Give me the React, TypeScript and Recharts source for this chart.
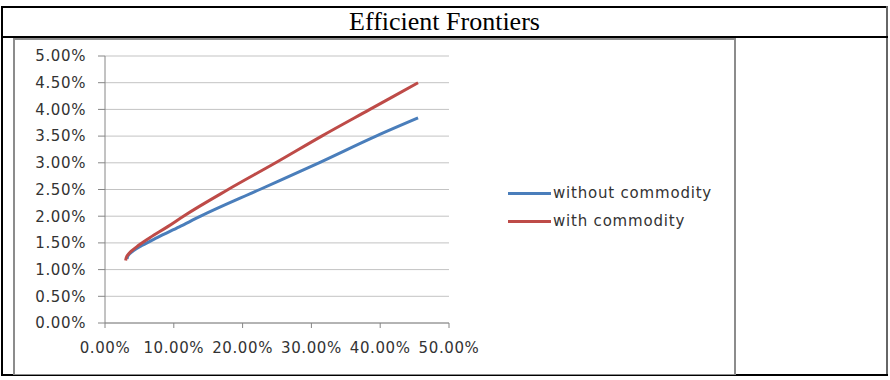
import { CartesianGrid, Line, LineChart, XAxis, YAxis } from "recharts";

// Portfolio risk (std dev, %) and expected return (%) along each frontier
const withoutRisk = [3.2, 3.31, 3.63, 4.22, 5.36, 7.58, 10.8, 13.9, 22.5, 31.1, 39.4, 45.5];
const withoutReturn = [1.2, 1.25, 1.3, 1.36, 1.45, 1.6, 1.8, 2.0, 2.5, 3.0, 3.5, 3.84];

const withRisk = [3.0, 3.08, 3.35, 3.87, 4.84, 6.56, 9.06, 11.4, 17.9, 24.8, 31.5, 38.5, 45.5];
const withReturn = [1.17, 1.22, 1.28, 1.35, 1.45, 1.6, 1.8, 2.0, 2.5, 3.0, 3.5, 4.0, 4.5];

const xTicks = [0, 10, 20, 30, 40, 50];
const yTicks = [0, 0.5, 1, 1.5, 2, 2.5, 3, 3.5, 4, 4.5, 5];

const BLUE = "#4a7ebb";
const RED = "#be4b48";
const FONT = "'DejaVu Sans', Verdana, sans-serif";

const zip = (xs: number[], ys: number[]) => xs.map((risk, i) => ({ risk, ret: ys[i] }));

const withoutData = zip(withoutRisk, withoutReturn);
const withData = zip(withRisk, withReturn);

const pct = (v: number) => `${v.toFixed(2)}%`;

const tickStyle = { fill: "#333", fontSize: 15, fontFamily: FONT, letterSpacing: 0.6 };

const legendItems = [
  { label: "without commodity", color: BLUE },
  { label: "with commodity", color: RED },
];

function Rule({ style }: { style: React.CSSProperties }) {
  return <div style={{ position: "absolute", ...style }} />;
}

export default function App() {
  return (
    <div
      style={{
        position: "absolute",
        left: 0,
        top: 0,
        width: 890,
        height: 380,
        background: "#fff",
        overflow: "hidden",
      }}
    >
      {/* table borders */}
      <Rule style={{ left: 1, top: 6, width: 887, height: 2, background: "#000" }} />
      <Rule style={{ left: 1, top: 6, width: 2, height: 370, background: "#000" }} />
      <Rule style={{ left: 886, top: 6, width: 2, height: 370, background: "#666" }} />
      <Rule style={{ left: 1, top: 36, width: 887, height: 2, background: "#000" }} />
      <Rule style={{ left: 1, top: 374, width: 887, height: 2, background: "#000" }} />

      <div
        style={{
          position: "absolute",
          left: 3,
          top: 7,
          width: 883,
          height: 29,
          lineHeight: "30px",
          textAlign: "center",
          fontFamily: "'Liberation Serif', 'Times New Roman', serif",
          fontSize: 26,
          color: "#000",
        }}
      >
        Efficient Frontiers
      </div>

      {/* chart frame */}
      <div
        style={{
          position: "absolute",
          left: 13,
          top: 38,
          width: 719,
          height: 334,
          border: "2px solid #8c8c8c",
          borderBottomWidth: 1,
        }}
      />

      <div style={{ position: "absolute", left: 14, top: 39 }}>
        <LineChart width={720} height={334} margin={{ top: 17, right: 285, bottom: 20, left: 0 }}>
          <CartesianGrid vertical={false} stroke="#c3c3c3" strokeWidth={1} />
          <XAxis
            type="number"
            dataKey="risk"
            domain={[0, 50]}
            ticks={xTicks}
            tickFormatter={pct}
            tick={tickStyle}
            tickSize={5}
            tickMargin={14}
            height={30}
            axisLine={{ stroke: "#868686" }}
            tickLine={{ stroke: "#868686" }}
            allowDataOverflow
          />
          <YAxis
            type="number"
            dataKey="ret"
            domain={[0, 5]}
            ticks={yTicks}
            tickFormatter={pct}
            tick={tickStyle}
            tickSize={7}
            tickMargin={12}
            width={91}
            axisLine={{ stroke: "#868686" }}
            tickLine={{ stroke: "#868686" }}
          />
          <Line
            data={withoutData}
            dataKey="ret"
            name="without commodity"
            type="monotone"
            stroke={BLUE}
            strokeWidth={3}
            dot={false}
            isAnimationActive={false}
          />
          <Line
            data={withData}
            dataKey="ret"
            name="with commodity"
            type="monotone"
            stroke={RED}
            strokeWidth={3}
            dot={false}
            isAnimationActive={false}
          />
        </LineChart>
      </div>

      {/* legend */}
      <div style={{ position: "absolute", left: 508, top: 179 }}>
        {legendItems.map((item) => (
          <div key={item.label} style={{ display: "flex", alignItems: "center", height: 28 }}>
            <span style={{ display: "inline-block", width: 43, height: 3, background: item.color }} />
            <span
              style={{
                fontFamily: FONT,
                fontSize: 15,
                letterSpacing: 0.8,
                color: "#333",
                marginLeft: 2,
              }}
            >
              {item.label}
            </span>
          </div>
        ))}
      </div>
    </div>
  );
}
